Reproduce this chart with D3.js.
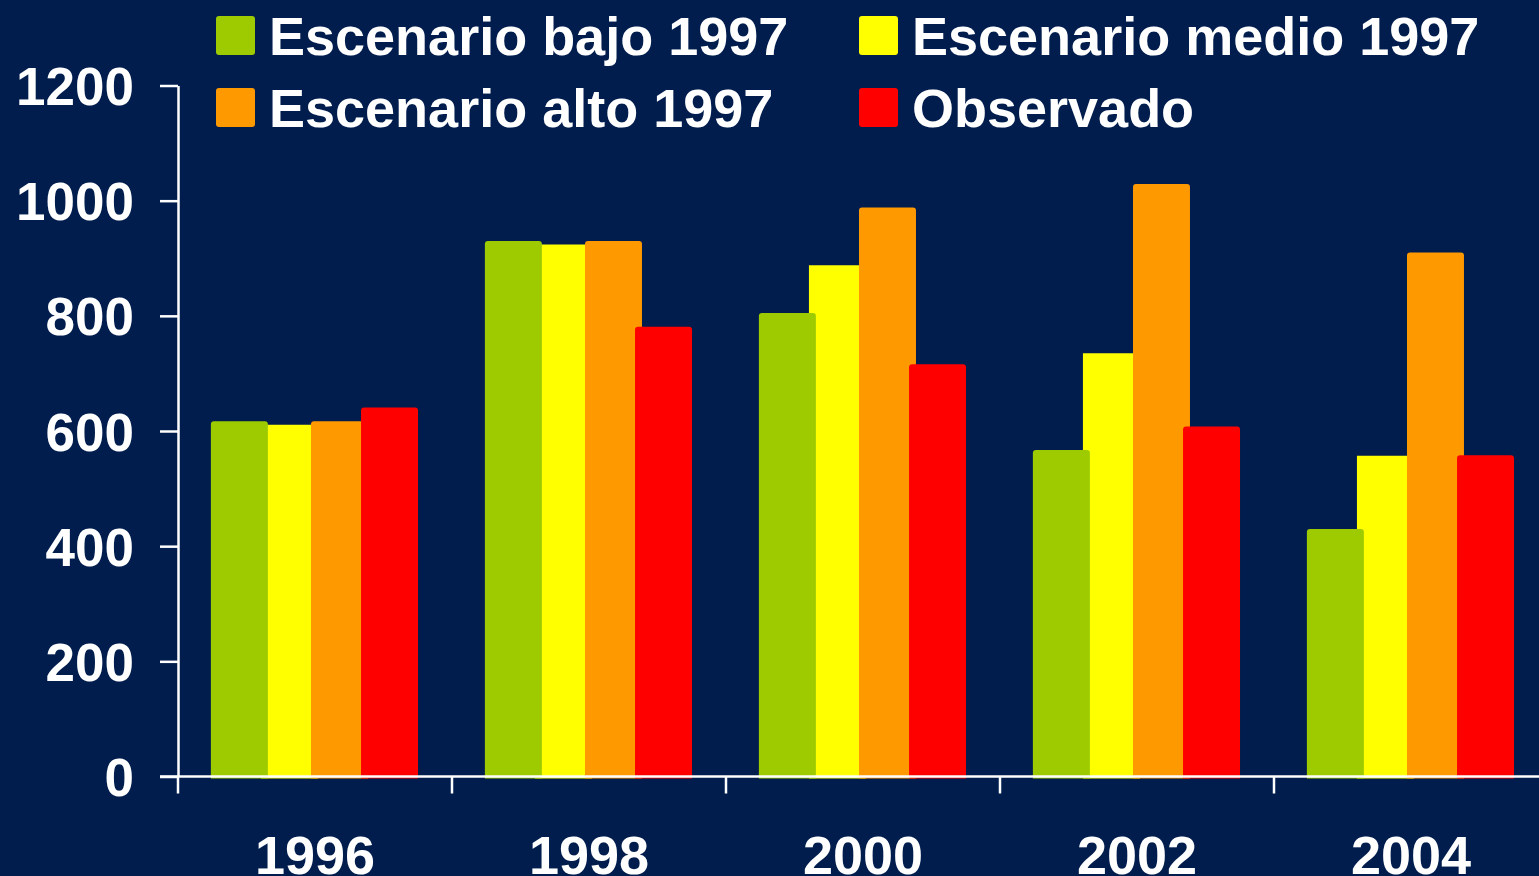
<!DOCTYPE html>
<html><head><meta charset="utf-8">
<script src="https://cdn.jsdelivr.net/npm/d3@7"></script>
<style>
html,body{margin:0;padding:0;background:#001d4d;overflow:hidden}
svg{display:block}
text{font-family:"Liberation Sans",Arial,sans-serif;font-weight:bold;fill:#fff}
</style></head>
<body><svg id="c" width="1539" height="876"></svg>
<script>
const years = ["1996","1998","2000","2002","2004"];
const seriesNames = ["Escenario bajo 1997","Escenario medio 1997","Escenario alto 1997","Observado"];
const bajo = [617, 930, 805, 567, 430];
const medio = [611, 924, 888, 735, 557];
const alto = [617, 930, 988, 1029, 910];
const observado = [641, 781, 716, 608, 558];
const yTicks = [0, 200, 400, 600, 800, 1000, 1200];
const colors = ["#9ecb00", "#ffff00", "#ff9900", "#ff0000"];
const values = [bajo, medio, alto, observado];

const svg = d3.select("#c");
const left = 178, yZero = 776.5, yTop = 85.5, groupW = 274;

const x = d3.scaleBand().domain(years.concat(["2006"])).range([left, left + groupW * 6]).padding(0);
const y = d3.scaleLinear().domain([0, 1200]).range([yZero, yTop]);
const bw = groupW * 0.208;
const off = d3.scaleLinear().domain([0, 3]).range([groupW * 0.12, groupW * 0.668]);

// bars: draw order medio first, then bajo, alto, observado
const order = [1, 0, 2, 3];
order.forEach(si => {
  const g = svg.append("g");
  g.selectAll("path").data(years.map((yr, i) => ({yr, v: values[si][i]})))
    .enter().append("path")
    .attr("fill", colors[si])
    .attr("d", d => {
      const x0 = x(d.yr) + off(si), y0 = y(d.v), w = bw, h = yZero - y0 + 2;
      const r = si === 1 ? 0 : 3;
      const p = d3.path();
      p.moveTo(x0, y0 + h);
      p.lineTo(x0, y0 + r);
      p.quadraticCurveTo(x0, y0, x0 + r, y0);
      p.lineTo(x0 + w - r, y0);
      p.quadraticCurveTo(x0 + w, y0, x0 + w, y0 + r);
      p.lineTo(x0 + w, y0 + h);
      p.closePath();
      return p.toString();
    });
});

// y axis
const yAxis = d3.axisLeft(y).tickValues(yTicks).tickFormat(d3.format("d")).tickSize(18).tickPadding(26).tickSizeOuter(0);
const ya = svg.append("g").attr("transform", `translate(${left},0)`).call(yAxis);
ya.select(".domain").attr("stroke", "#fff").attr("stroke-width", 2.5);
ya.selectAll(".tick line").attr("stroke", "#fff").attr("stroke-width", 2.5);
ya.selectAll(".tick text").style("font-size", "53px").attr("dy", "0.36em");

// x axis
const xa = svg.append("g").attr("transform", `translate(0,${yZero})`);
xa.append("line").attr("x1", left - 18).attr("x2", 1539).attr("y1", 0).attr("y2", 0)
  .attr("stroke", "#fff").attr("stroke-width", 2.5);
xa.selectAll("line.t").data(years.concat(["2006"])).enter().append("line")
  .attr("x1", d => x(d)).attr("x2", d => x(d)).attr("y1", 0).attr("y2", 17)
  .attr("stroke", "#fff").attr("stroke-width", 2.5);
xa.selectAll("text").data(years).enter().append("text")
  .attr("x", d => x(d) + x.bandwidth() / 2).attr("y", 97)
  .attr("text-anchor", "middle").style("font-size", "54px").text(d => d);

// legend
const legPos = [[216, 16], [859, 16], [216, 88], [859, 88]];
seriesNames.forEach((n, i) => {
  const g = svg.append("g").attr("transform", `translate(${legPos[i][0]},${legPos[i][1]})`);
  g.append("rect").attr("width", 39).attr("height", 39).attr("rx", 3).attr("fill", colors[i]);
  g.append("text").attr("x", 53).attr("y", 39).style("font-size", "54px").text(n);
});
</script></body></html>
